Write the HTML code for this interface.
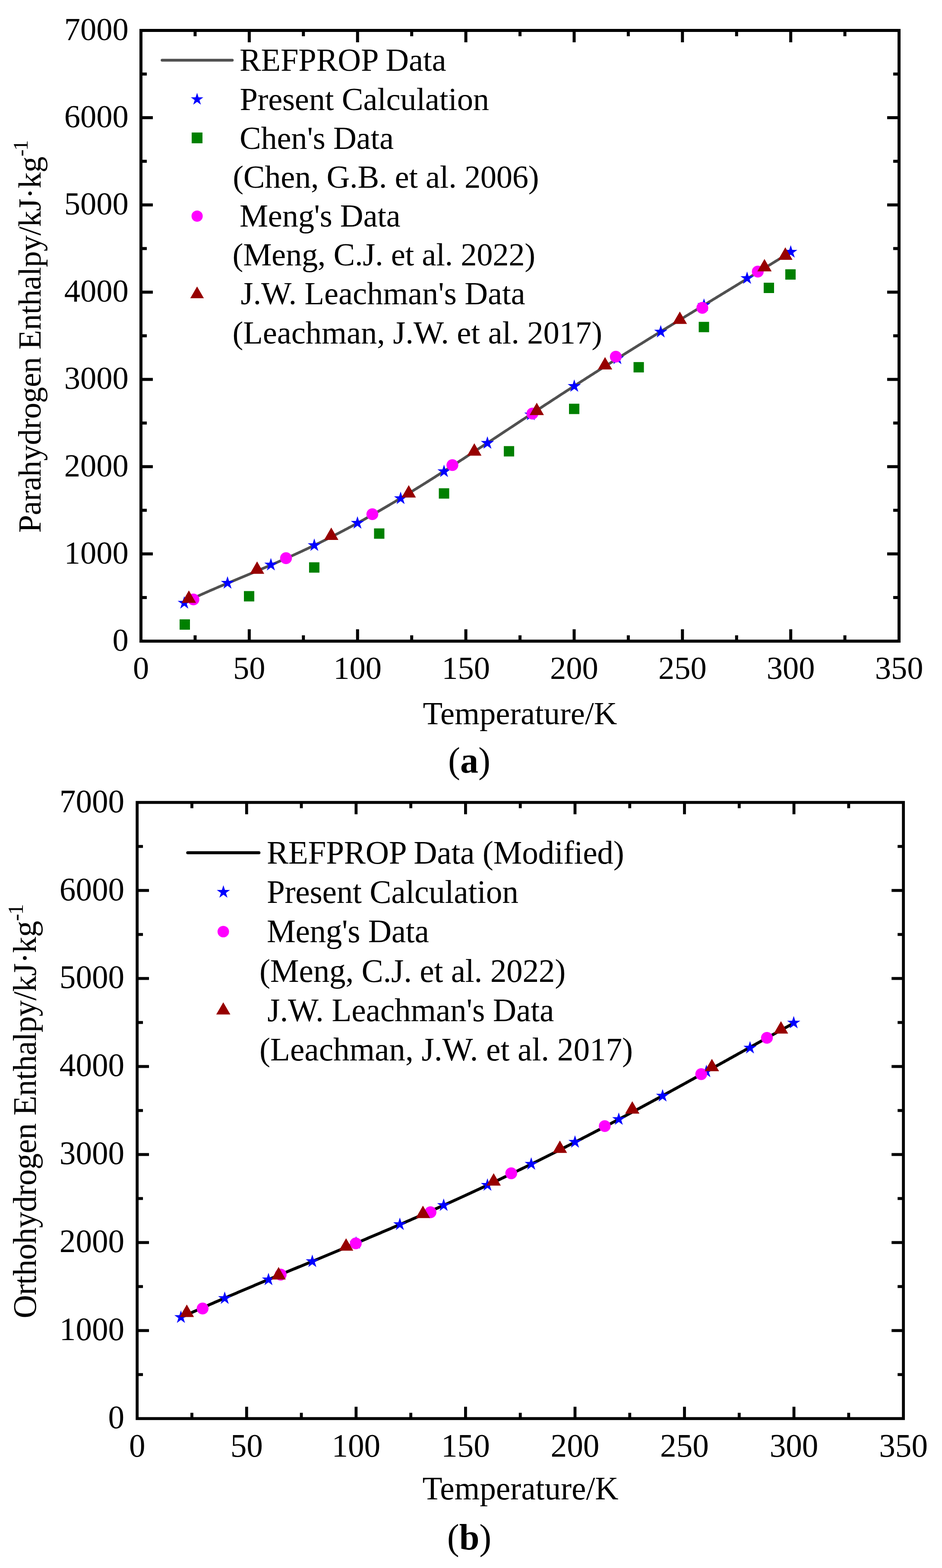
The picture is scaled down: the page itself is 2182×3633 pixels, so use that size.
<!DOCTYPE html>
<html><head><meta charset="utf-8"><title>Enthalpy of parahydrogen and orthohydrogen</title>
<style>
html,body{margin:0;padding:0;background:#fff;}
svg{display:block;}
text{font-family:"Liberation Serif","Times New Roman",serif;fill:#000;font-variant-ligatures:none;}
</style></head>
<body>
<svg width="2182" height="3633" viewBox="0 0 2182 3633">
<rect width="2182" height="3633" fill="#fff"/>
<rect x="326.5" y="70.5" width="1756.00" height="1415.00" fill="none" stroke="#000" stroke-width="7"/>
<text x="326.50" y="1573.30" font-size="74.5" text-anchor="middle" >0</text>
<line x1="451.93" y1="1485.5" x2="451.93" y2="1472.00" stroke="#000" stroke-width="7"/>
<line x1="451.93" y1="70.5" x2="451.93" y2="84.00" stroke="#000" stroke-width="7"/>
<line x1="577.36" y1="1485.5" x2="577.36" y2="1458.00" stroke="#000" stroke-width="7"/>
<line x1="577.36" y1="70.5" x2="577.36" y2="98.00" stroke="#000" stroke-width="7"/>
<text x="577.36" y="1573.30" font-size="74.5" text-anchor="middle" >50</text>
<line x1="702.79" y1="1485.5" x2="702.79" y2="1472.00" stroke="#000" stroke-width="7"/>
<line x1="702.79" y1="70.5" x2="702.79" y2="84.00" stroke="#000" stroke-width="7"/>
<line x1="828.21" y1="1485.5" x2="828.21" y2="1458.00" stroke="#000" stroke-width="7"/>
<line x1="828.21" y1="70.5" x2="828.21" y2="98.00" stroke="#000" stroke-width="7"/>
<text x="828.21" y="1573.30" font-size="74.5" text-anchor="middle" >100</text>
<line x1="953.64" y1="1485.5" x2="953.64" y2="1472.00" stroke="#000" stroke-width="7"/>
<line x1="953.64" y1="70.5" x2="953.64" y2="84.00" stroke="#000" stroke-width="7"/>
<line x1="1079.07" y1="1485.5" x2="1079.07" y2="1458.00" stroke="#000" stroke-width="7"/>
<line x1="1079.07" y1="70.5" x2="1079.07" y2="98.00" stroke="#000" stroke-width="7"/>
<text x="1079.07" y="1573.30" font-size="74.5" text-anchor="middle" >150</text>
<line x1="1204.50" y1="1485.5" x2="1204.50" y2="1472.00" stroke="#000" stroke-width="7"/>
<line x1="1204.50" y1="70.5" x2="1204.50" y2="84.00" stroke="#000" stroke-width="7"/>
<line x1="1329.93" y1="1485.5" x2="1329.93" y2="1458.00" stroke="#000" stroke-width="7"/>
<line x1="1329.93" y1="70.5" x2="1329.93" y2="98.00" stroke="#000" stroke-width="7"/>
<text x="1329.93" y="1573.30" font-size="74.5" text-anchor="middle" >200</text>
<line x1="1455.36" y1="1485.5" x2="1455.36" y2="1472.00" stroke="#000" stroke-width="7"/>
<line x1="1455.36" y1="70.5" x2="1455.36" y2="84.00" stroke="#000" stroke-width="7"/>
<line x1="1580.79" y1="1485.5" x2="1580.79" y2="1458.00" stroke="#000" stroke-width="7"/>
<line x1="1580.79" y1="70.5" x2="1580.79" y2="98.00" stroke="#000" stroke-width="7"/>
<text x="1580.79" y="1573.30" font-size="74.5" text-anchor="middle" >250</text>
<line x1="1706.21" y1="1485.5" x2="1706.21" y2="1472.00" stroke="#000" stroke-width="7"/>
<line x1="1706.21" y1="70.5" x2="1706.21" y2="84.00" stroke="#000" stroke-width="7"/>
<line x1="1831.64" y1="1485.5" x2="1831.64" y2="1458.00" stroke="#000" stroke-width="7"/>
<line x1="1831.64" y1="70.5" x2="1831.64" y2="98.00" stroke="#000" stroke-width="7"/>
<text x="1831.64" y="1573.30" font-size="74.5" text-anchor="middle" >300</text>
<line x1="1957.07" y1="1485.5" x2="1957.07" y2="1472.00" stroke="#000" stroke-width="7"/>
<line x1="1957.07" y1="70.5" x2="1957.07" y2="84.00" stroke="#000" stroke-width="7"/>
<text x="2082.50" y="1573.30" font-size="74.5" text-anchor="middle" >350</text>
<text x="297.70" y="1507.90" font-size="74.5" text-anchor="end" >0</text>
<line x1="326.5" y1="1384.43" x2="340.00" y2="1384.43" stroke="#000" stroke-width="7"/>
<line x1="2082.5" y1="1384.43" x2="2069.00" y2="1384.43" stroke="#000" stroke-width="7"/>
<line x1="326.5" y1="1283.36" x2="354.00" y2="1283.36" stroke="#000" stroke-width="7"/>
<line x1="2082.5" y1="1283.36" x2="2055.00" y2="1283.36" stroke="#000" stroke-width="7"/>
<text x="297.70" y="1305.76" font-size="74.5" text-anchor="end" >1000</text>
<line x1="326.5" y1="1182.29" x2="340.00" y2="1182.29" stroke="#000" stroke-width="7"/>
<line x1="2082.5" y1="1182.29" x2="2069.00" y2="1182.29" stroke="#000" stroke-width="7"/>
<line x1="326.5" y1="1081.21" x2="354.00" y2="1081.21" stroke="#000" stroke-width="7"/>
<line x1="2082.5" y1="1081.21" x2="2055.00" y2="1081.21" stroke="#000" stroke-width="7"/>
<text x="297.70" y="1103.61" font-size="74.5" text-anchor="end" >2000</text>
<line x1="326.5" y1="980.14" x2="340.00" y2="980.14" stroke="#000" stroke-width="7"/>
<line x1="2082.5" y1="980.14" x2="2069.00" y2="980.14" stroke="#000" stroke-width="7"/>
<line x1="326.5" y1="879.07" x2="354.00" y2="879.07" stroke="#000" stroke-width="7"/>
<line x1="2082.5" y1="879.07" x2="2055.00" y2="879.07" stroke="#000" stroke-width="7"/>
<text x="297.70" y="901.47" font-size="74.5" text-anchor="end" >3000</text>
<line x1="326.5" y1="778.00" x2="340.00" y2="778.00" stroke="#000" stroke-width="7"/>
<line x1="2082.5" y1="778.00" x2="2069.00" y2="778.00" stroke="#000" stroke-width="7"/>
<line x1="326.5" y1="676.93" x2="354.00" y2="676.93" stroke="#000" stroke-width="7"/>
<line x1="2082.5" y1="676.93" x2="2055.00" y2="676.93" stroke="#000" stroke-width="7"/>
<text x="297.70" y="699.33" font-size="74.5" text-anchor="end" >4000</text>
<line x1="326.5" y1="575.86" x2="340.00" y2="575.86" stroke="#000" stroke-width="7"/>
<line x1="2082.5" y1="575.86" x2="2069.00" y2="575.86" stroke="#000" stroke-width="7"/>
<line x1="326.5" y1="474.79" x2="354.00" y2="474.79" stroke="#000" stroke-width="7"/>
<line x1="2082.5" y1="474.79" x2="2055.00" y2="474.79" stroke="#000" stroke-width="7"/>
<text x="297.70" y="497.19" font-size="74.5" text-anchor="end" >5000</text>
<line x1="326.5" y1="373.71" x2="340.00" y2="373.71" stroke="#000" stroke-width="7"/>
<line x1="2082.5" y1="373.71" x2="2069.00" y2="373.71" stroke="#000" stroke-width="7"/>
<line x1="326.5" y1="272.64" x2="354.00" y2="272.64" stroke="#000" stroke-width="7"/>
<line x1="2082.5" y1="272.64" x2="2055.00" y2="272.64" stroke="#000" stroke-width="7"/>
<text x="297.70" y="295.04" font-size="74.5" text-anchor="end" >6000</text>
<line x1="326.5" y1="171.57" x2="340.00" y2="171.57" stroke="#000" stroke-width="7"/>
<line x1="2082.5" y1="171.57" x2="2069.00" y2="171.57" stroke="#000" stroke-width="7"/>
<text x="297.70" y="92.90" font-size="74.5" text-anchor="end" >7000</text>
<path d="M426.80,1396.13 L429.80,1394.65 L432.80,1393.19 L435.81,1391.74 L438.81,1390.30 L441.81,1388.87 L444.81,1387.44 L447.81,1386.03 L450.81,1384.63 L453.82,1383.24 L456.82,1381.86 L459.82,1380.49 L462.82,1379.12 L465.82,1377.76 L468.82,1376.41 L471.83,1375.07 L474.83,1373.73 L477.83,1372.41 L480.83,1371.08 L483.83,1369.77 L486.83,1368.46 L489.84,1367.15 L492.84,1365.85 L495.84,1364.56 L498.84,1363.27 L501.84,1361.98 L504.84,1360.70 L507.85,1359.42 L510.85,1358.15 L513.85,1356.88 L516.85,1355.61 L519.85,1354.34 L522.85,1353.08 L525.86,1351.82 L528.86,1350.56 L531.86,1349.31 L534.86,1348.05 L537.86,1346.80 L540.86,1345.55 L543.87,1344.30 L546.87,1343.05 L549.87,1341.80 L552.87,1340.56 L555.87,1339.31 L558.88,1338.06 L561.88,1336.81 L564.88,1335.57 L567.88,1334.32 L570.88,1333.07 L573.88,1331.82 L576.89,1330.57 L579.89,1329.32 L582.89,1328.06 L585.89,1326.81 L588.89,1325.55 L591.89,1324.30 L594.90,1323.04 L597.90,1321.77 L600.90,1320.51 L603.90,1319.24 L606.90,1317.98 L609.90,1316.70 L612.91,1315.43 L615.91,1314.15 L618.91,1312.87 L621.91,1311.59 L624.91,1310.30 L627.91,1309.01 L630.92,1307.72 L633.92,1306.42 L636.92,1305.12 L639.92,1303.82 L642.92,1302.51 L645.92,1301.20 L648.93,1299.89 L651.93,1298.57 L654.93,1297.24 L657.93,1295.91 L660.93,1294.58 L663.94,1293.24 L666.94,1291.90 L669.94,1290.55 L672.94,1289.20 L675.94,1287.85 L678.94,1286.49 L681.95,1285.12 L684.95,1283.75 L687.95,1282.38 L690.95,1281.00 L693.95,1279.61 L696.95,1278.22 L699.96,1276.82 L702.96,1275.42 L705.96,1274.01 L708.96,1272.60 L711.96,1271.18 L714.96,1269.76 L717.97,1268.33 L720.97,1266.90 L723.97,1265.46 L726.97,1264.02 L729.97,1262.56 L732.97,1261.11 L735.98,1259.65 L738.98,1258.18 L741.98,1256.71 L744.98,1255.23 L747.98,1253.74 L750.98,1252.25 L753.99,1250.75 L756.99,1249.25 L759.99,1247.74 L762.99,1246.23 L765.99,1244.71 L768.99,1243.19 L772.00,1241.65 L775.00,1240.12 L778.00,1238.57 L781.00,1237.03 L784.00,1235.47 L787.01,1233.91 L790.01,1232.34 L793.01,1230.77 L796.01,1229.19 L799.01,1227.61 L802.01,1226.02 L805.02,1224.43 L808.02,1222.83 L811.02,1221.22 L814.02,1219.61 L817.02,1217.99 L820.02,1216.37 L823.03,1214.74 L826.03,1213.10 L829.03,1211.46 L832.03,1209.81 L835.03,1208.16 L838.03,1206.50 L841.04,1204.84 L844.04,1203.17 L847.04,1201.50 L850.04,1199.82 L853.04,1198.14 L856.04,1196.44 L859.05,1194.75 L862.05,1193.05 L865.05,1191.34 L868.05,1189.63 L871.05,1187.91 L874.05,1186.19 L877.06,1184.47 L880.06,1182.73 L883.06,1181.00 L886.06,1179.26 L889.06,1177.51 L892.06,1175.76 L895.07,1174.00 L898.07,1172.24 L901.07,1170.47 L904.07,1168.70 L907.07,1166.93 L910.08,1165.15 L913.08,1163.36 L916.08,1161.57 L919.08,1159.78 L922.08,1157.98 L925.08,1156.18 L928.09,1154.37 L931.09,1152.56 L934.09,1150.74 L937.09,1148.92 L940.09,1147.10 L943.09,1145.27 L946.10,1143.44 L949.10,1141.60 L952.10,1139.76 L955.10,1137.91 L958.10,1136.07 L961.10,1134.21 L964.11,1132.36 L967.11,1130.50 L970.11,1128.64 L973.11,1126.77 L976.11,1124.90 L979.11,1123.03 L982.12,1121.15 L985.12,1119.27 L988.12,1117.38 L991.12,1115.50 L994.12,1113.61 L997.12,1111.71 L1000.13,1109.82 L1003.13,1107.92 L1006.13,1106.02 L1009.13,1104.11 L1012.13,1102.20 L1015.14,1100.29 L1018.14,1098.38 L1021.14,1096.46 L1024.14,1094.54 L1027.14,1092.62 L1030.14,1090.70 L1033.15,1088.77 L1036.15,1086.84 L1039.15,1084.91 L1042.15,1082.98 L1045.15,1081.04 L1048.15,1079.10 L1051.16,1077.16 L1054.16,1075.22 L1057.16,1073.28 L1060.16,1071.33 L1063.16,1069.38 L1066.16,1067.43 L1069.17,1065.48 L1072.17,1063.53 L1075.17,1061.57 L1078.17,1059.62 L1081.17,1057.66 L1084.17,1055.70 L1087.18,1053.74 L1090.18,1051.78 L1093.18,1049.81 L1096.18,1047.85 L1099.18,1045.88 L1102.18,1043.91 L1105.19,1041.95 L1108.19,1039.98 L1111.19,1038.01 L1114.19,1036.03 L1117.19,1034.06 L1120.19,1032.09 L1123.20,1030.11 L1126.20,1028.14 L1129.20,1026.16 L1132.20,1024.19 L1135.20,1022.21 L1138.21,1020.23 L1141.21,1018.25 L1144.21,1016.27 L1147.21,1014.30 L1150.21,1012.32 L1153.21,1010.34 L1156.22,1008.36 L1159.22,1006.38 L1162.22,1004.39 L1165.22,1002.41 L1168.22,1000.43 L1171.22,998.45 L1174.23,996.47 L1177.23,994.49 L1180.23,992.51 L1183.23,990.53 L1186.23,988.55 L1189.23,986.57 L1192.24,984.59 L1195.24,982.61 L1198.24,980.63 L1201.24,978.65 L1204.24,976.67 L1207.24,974.69 L1210.25,972.71 L1213.25,970.73 L1216.25,968.75 L1219.25,966.78 L1222.25,964.80 L1225.25,962.83 L1228.26,960.85 L1231.26,958.88 L1234.26,956.90 L1237.26,954.93 L1240.26,952.96 L1243.26,950.99 L1246.27,949.02 L1249.27,947.05 L1252.27,945.08 L1255.27,943.11 L1258.27,941.14 L1261.28,939.18 L1264.28,937.21 L1267.28,935.25 L1270.28,933.29 L1273.28,931.32 L1276.28,929.36 L1279.29,927.40 L1282.29,925.44 L1285.29,923.49 L1288.29,921.53 L1291.29,919.58 L1294.29,917.62 L1297.30,915.67 L1300.30,913.72 L1303.30,911.77 L1306.30,909.82 L1309.30,907.87 L1312.30,905.93 L1315.31,903.98 L1318.31,902.04 L1321.31,900.10 L1324.31,898.16 L1327.31,896.22 L1330.31,894.28 L1333.32,892.34 L1336.32,890.41 L1339.32,888.47 L1342.32,886.54 L1345.32,884.61 L1348.32,882.68 L1351.33,880.75 L1354.33,878.83 L1357.33,876.90 L1360.33,874.98 L1363.33,873.06 L1366.34,871.14 L1369.34,869.22 L1372.34,867.30 L1375.34,865.38 L1378.34,863.47 L1381.34,861.56 L1384.35,859.64 L1387.35,857.73 L1390.35,855.83 L1393.35,853.92 L1396.35,852.01 L1399.35,850.11 L1402.36,848.21 L1405.36,846.31 L1408.36,844.41 L1411.36,842.51 L1414.36,840.61 L1417.36,838.72 L1420.37,836.82 L1423.37,834.93 L1426.37,833.04 L1429.37,831.15 L1432.37,829.26 L1435.37,827.38 L1438.38,825.49 L1441.38,823.61 L1444.38,821.72 L1447.38,819.84 L1450.38,817.96 L1453.38,816.09 L1456.39,814.21 L1459.39,812.33 L1462.39,810.46 L1465.39,808.59 L1468.39,806.71 L1471.39,804.84 L1474.40,802.98 L1477.40,801.11 L1480.40,799.24 L1483.40,797.38 L1486.40,795.51 L1489.41,793.65 L1492.41,791.79 L1495.41,789.93 L1498.41,788.07 L1501.41,786.21 L1504.41,784.35 L1507.42,782.50 L1510.42,780.64 L1513.42,778.79 L1516.42,776.93 L1519.42,775.08 L1522.42,773.23 L1525.43,771.38 L1528.43,769.53 L1531.43,767.68 L1534.43,765.83 L1537.43,763.99 L1540.43,762.14 L1543.44,760.30 L1546.44,758.45 L1549.44,756.61 L1552.44,754.77 L1555.44,752.92 L1558.44,751.08 L1561.45,749.24 L1564.45,747.40 L1567.45,745.56 L1570.45,743.72 L1573.45,741.89 L1576.45,740.05 L1579.46,738.21 L1582.46,736.38 L1585.46,734.54 L1588.46,732.70 L1591.46,730.87 L1594.46,729.03 L1597.47,727.20 L1600.47,725.37 L1603.47,723.53 L1606.47,721.70 L1609.47,719.87 L1612.48,718.03 L1615.48,716.20 L1618.48,714.37 L1621.48,712.54 L1624.48,710.71 L1627.48,708.87 L1630.49,707.04 L1633.49,705.21 L1636.49,703.38 L1639.49,701.55 L1642.49,699.72 L1645.49,697.89 L1648.50,696.06 L1651.50,694.22 L1654.50,692.39 L1657.50,690.56 L1660.50,688.73 L1663.50,686.90 L1666.51,685.07 L1669.51,683.24 L1672.51,681.40 L1675.51,679.57 L1678.51,677.74 L1681.51,675.91 L1684.52,674.07 L1687.52,672.24 L1690.52,670.41 L1693.52,668.57 L1696.52,666.74 L1699.52,664.91 L1702.53,663.07 L1705.53,661.24 L1708.53,659.40 L1711.53,657.57 L1714.53,655.73 L1717.54,653.89 L1720.54,652.06 L1723.54,650.22 L1726.54,648.38 L1729.54,646.54 L1732.54,644.70 L1735.55,642.87 L1738.55,641.03 L1741.55,639.19 L1744.55,637.35 L1747.55,635.50 L1750.55,633.66 L1753.56,631.82 L1756.56,629.98 L1759.56,628.14 L1762.56,626.29 L1765.56,624.45 L1768.56,622.61 L1771.57,620.76 L1774.57,618.92 L1777.57,617.07 L1780.57,615.23 L1783.57,613.38 L1786.57,611.53 L1789.58,609.69 L1792.58,607.84 L1795.58,605.99 L1798.58,604.14 L1801.58,602.29 L1804.58,600.44 L1807.59,598.59 L1810.59,596.74 L1813.59,594.89 L1816.59,593.04 L1819.59,591.19 L1822.59,589.34 L1825.60,587.49 L1828.60,585.64 L1831.60,583.79" fill="none" stroke="#505050" stroke-width="6.2" stroke-linejoin="round"/>
<rect x="416.00" y="1435.00" width="24" height="24" fill="#008000"/>
<rect x="565.00" y="1369.50" width="24" height="24" fill="#008000"/>
<rect x="715.90" y="1302.80" width="24" height="24" fill="#008000"/>
<rect x="866.40" y="1224.30" width="24" height="24" fill="#008000"/>
<rect x="1016.50" y="1131.30" width="24" height="24" fill="#008000"/>
<rect x="1167.00" y="1033.60" width="24" height="24" fill="#008000"/>
<rect x="1318.00" y="935.40" width="24" height="24" fill="#008000"/>
<rect x="1467.50" y="838.90" width="24" height="24" fill="#008000"/>
<rect x="1618.50" y="745.70" width="24" height="24" fill="#008000"/>
<rect x="1769.00" y="655.00" width="24" height="24" fill="#008000"/>
<rect x="1819.00" y="623.90" width="24" height="24" fill="#008000"/>
<polygon points="426.80,1381.20 430.39,1392.26 442.02,1392.26 432.61,1399.09 436.20,1410.14 426.80,1403.31 417.40,1410.14 420.99,1399.09 411.58,1392.26 423.21,1392.26" fill="#0000ff"/>
<polygon points="527.00,1335.00 530.59,1346.06 542.22,1346.06 532.81,1352.89 536.40,1363.94 527.00,1357.11 517.60,1363.94 521.19,1352.89 511.78,1346.06 523.41,1346.06" fill="#0000ff"/>
<polygon points="627.50,1292.80 631.09,1303.86 642.72,1303.86 633.31,1310.69 636.90,1321.74 627.50,1314.91 618.10,1321.74 621.69,1310.69 612.28,1303.86 623.91,1303.86" fill="#0000ff"/>
<polygon points="728.00,1247.60 731.59,1258.66 743.22,1258.66 733.81,1265.49 737.40,1276.54 728.00,1269.71 718.60,1276.54 722.19,1265.49 712.78,1258.66 724.41,1258.66" fill="#0000ff"/>
<polygon points="828.00,1196.00 831.59,1207.06 843.22,1207.06 833.81,1213.89 837.40,1224.94 828.00,1218.11 818.60,1224.94 822.19,1213.89 812.78,1207.06 824.41,1207.06" fill="#0000ff"/>
<polygon points="928.00,1139.00 931.59,1150.06 943.22,1150.06 933.81,1156.89 937.40,1167.94 928.00,1161.11 918.60,1167.94 922.19,1156.89 912.78,1150.06 924.41,1150.06" fill="#0000ff"/>
<polygon points="1028.50,1076.50 1032.09,1087.56 1043.72,1087.56 1034.31,1094.39 1037.90,1105.44 1028.50,1098.61 1019.10,1105.44 1022.69,1094.39 1013.28,1087.56 1024.91,1087.56" fill="#0000ff"/>
<polygon points="1129.00,1010.80 1132.59,1021.86 1144.22,1021.86 1134.81,1028.69 1138.40,1039.74 1129.00,1032.91 1119.60,1039.74 1123.19,1028.69 1113.78,1021.86 1125.41,1021.86" fill="#0000ff"/>
<polygon points="1229.60,944.90 1233.19,955.96 1244.82,955.96 1235.41,962.79 1239.00,973.84 1229.60,967.01 1220.20,973.84 1223.79,962.79 1214.38,955.96 1226.01,955.96" fill="#0000ff"/>
<polygon points="1330.20,878.90 1333.79,889.96 1345.42,889.96 1336.01,896.79 1339.60,907.84 1330.20,901.01 1320.80,907.84 1324.39,896.79 1314.98,889.96 1326.61,889.96" fill="#0000ff"/>
<polygon points="1430.10,814.80 1433.69,825.86 1445.32,825.86 1435.91,832.69 1439.50,843.74 1430.10,836.91 1420.70,843.74 1424.29,832.69 1414.88,825.86 1426.51,825.86" fill="#0000ff"/>
<polygon points="1530.50,753.00 1534.09,764.06 1545.72,764.06 1536.31,770.89 1539.90,781.94 1530.50,775.11 1521.10,781.94 1524.69,770.89 1515.28,764.06 1526.91,764.06" fill="#0000ff"/>
<polygon points="1630.70,691.20 1634.29,702.26 1645.92,702.26 1636.51,709.09 1640.10,720.14 1630.70,713.31 1621.30,720.14 1624.89,709.09 1615.48,702.26 1627.11,702.26" fill="#0000ff"/>
<polygon points="1730.50,628.90 1734.09,639.96 1745.72,639.96 1736.31,646.79 1739.90,657.84 1730.50,651.01 1721.10,657.84 1724.69,646.79 1715.28,639.96 1726.91,639.96" fill="#0000ff"/>
<polygon points="1831.60,568.00 1835.19,579.06 1846.82,579.06 1837.41,585.89 1841.00,596.94 1831.60,590.11 1822.20,596.94 1825.79,585.89 1816.38,579.06 1828.01,579.06" fill="#0000ff"/>
<circle cx="448" cy="1388.9" r="13.7" fill="#ff00ff"/>
<circle cx="662.5" cy="1293.2" r="13.7" fill="#ff00ff"/>
<circle cx="862.5" cy="1191.4" r="13.7" fill="#ff00ff"/>
<circle cx="1047.9" cy="1077.6" r="13.7" fill="#ff00ff"/>
<circle cx="1233.2" cy="958.3" r="13.7" fill="#ff00ff"/>
<circle cx="1426.4" cy="826.4" r="13.7" fill="#ff00ff"/>
<circle cx="1626.9" cy="713.2" r="13.7" fill="#ff00ff"/>
<circle cx="1755.3" cy="629.2" r="13.7" fill="#ff00ff"/>
<polygon points="420.90,1396.80 454.10,1396.80 437.50,1368.00" fill="#970000"/>
<polygon points="578.90,1329.60 612.10,1329.60 595.50,1300.80" fill="#970000"/>
<polygon points="750.70,1251.10 783.90,1251.10 767.30,1222.30" fill="#970000"/>
<polygon points="930.20,1152.70 963.40,1152.70 946.80,1123.90" fill="#970000"/>
<polygon points="1082.10,1055.70 1115.30,1055.70 1098.70,1026.90" fill="#970000"/>
<polygon points="1226.70,961.70 1259.90,961.70 1243.30,932.90" fill="#970000"/>
<polygon points="1384.90,856.10 1418.10,856.10 1401.50,827.30" fill="#970000"/>
<polygon points="1558.10,750.60 1591.30,750.60 1574.70,721.80" fill="#970000"/>
<polygon points="1754.20,628.80 1787.40,628.80 1770.80,600.00" fill="#970000"/>
<polygon points="1802.50,601.90 1835.70,601.90 1819.10,573.10" fill="#970000"/>
<line x1="375.5" y1="139.5" x2="538" y2="139.5" stroke="#505050" stroke-width="6.5" stroke-linecap="round"/>
<polygon points="456.50,215.00 459.91,225.50 470.96,225.50 462.02,231.99 465.43,242.50 456.50,236.01 447.57,242.50 450.98,231.99 442.04,225.50 453.09,225.50" fill="#0000ff"/>
<rect x="444.00" y="307.00" width="25" height="25" fill="#008000"/>
<circle cx="456.6" cy="500.8" r="13.0" fill="#ff00ff"/>
<polygon points="440.75,691.00 472.25,691.00 456.50,663.70" fill="#970000"/>
<text x="554.90" y="164.0" font-size="74.5" id="la1" textLength="478.70" lengthAdjust="spacing">REFPROP Data</text>
<text x="555.40" y="254.5" font-size="74.5" id="la2" textLength="577.59" lengthAdjust="spacing">Present Calculation</text>
<text x="554.90" y="344.6" font-size="74.5" id="la3" textLength="357.14" lengthAdjust="spacing">Chen's Data</text>
<text x="539.30" y="435.2" font-size="74.5" id="la4" textLength="709.21" lengthAdjust="spacing">(Chen, G.B. et al. 2006)</text>
<text x="554.90" y="524.8" font-size="74.5" id="la5" textLength="372.78" lengthAdjust="spacing">Meng's Data</text>
<text x="538.60" y="615.4" font-size="74.5" id="la6" textLength="701.36" lengthAdjust="spacing">(Meng, C.J. et al. 2022)</text>
<text x="557.50" y="705.2" font-size="74.5" id="la7" textLength="659.15" lengthAdjust="spacing">J.W. Leachman's Data</text>
<text x="538.60" y="796.2" font-size="74.5" id="la8" textLength="856.34" lengthAdjust="spacing">(Leachman, J.W. et al. 2017)</text>
<text x="1204.5" y="1677.5" font-size="74.5" text-anchor="middle" >Temperature/K</text>
<text transform="translate(94.4,1234.50) rotate(-90)" x="0" y="0" font-size="74.5" id="ya1" textLength="872.01" lengthAdjust="spacing">Parahydrogen Enthalpy/kJ·kg</text>
<text transform="translate(64.0,362.60) rotate(-90)" x="0" y="0" font-size="48.7" id="ya2" textLength="37.96" lengthAdjust="spacing">-1</text>
<text x="1087" y="1790" font-size="84" text-anchor="middle">(<tspan font-weight="bold">a</tspan>)</text>
<rect x="317.7" y="1859.2" width="1774.90" height="1427.60" fill="none" stroke="#000" stroke-width="6.8"/>
<text x="317.70" y="3375.30" font-size="75.2" text-anchor="middle" >0</text>
<line x1="444.48" y1="3286.8" x2="444.48" y2="3273.40" stroke="#000" stroke-width="6.8"/>
<line x1="444.48" y1="1859.2" x2="444.48" y2="1872.60" stroke="#000" stroke-width="6.8"/>
<line x1="571.26" y1="3286.8" x2="571.26" y2="3259.40" stroke="#000" stroke-width="6.8"/>
<line x1="571.26" y1="1859.2" x2="571.26" y2="1886.60" stroke="#000" stroke-width="6.8"/>
<text x="571.26" y="3375.30" font-size="75.2" text-anchor="middle" >50</text>
<line x1="698.04" y1="3286.8" x2="698.04" y2="3273.40" stroke="#000" stroke-width="6.8"/>
<line x1="698.04" y1="1859.2" x2="698.04" y2="1872.60" stroke="#000" stroke-width="6.8"/>
<line x1="824.81" y1="3286.8" x2="824.81" y2="3259.40" stroke="#000" stroke-width="6.8"/>
<line x1="824.81" y1="1859.2" x2="824.81" y2="1886.60" stroke="#000" stroke-width="6.8"/>
<text x="824.81" y="3375.30" font-size="75.2" text-anchor="middle" >100</text>
<line x1="951.59" y1="3286.8" x2="951.59" y2="3273.40" stroke="#000" stroke-width="6.8"/>
<line x1="951.59" y1="1859.2" x2="951.59" y2="1872.60" stroke="#000" stroke-width="6.8"/>
<line x1="1078.37" y1="3286.8" x2="1078.37" y2="3259.40" stroke="#000" stroke-width="6.8"/>
<line x1="1078.37" y1="1859.2" x2="1078.37" y2="1886.60" stroke="#000" stroke-width="6.8"/>
<text x="1078.37" y="3375.30" font-size="75.2" text-anchor="middle" >150</text>
<line x1="1205.15" y1="3286.8" x2="1205.15" y2="3273.40" stroke="#000" stroke-width="6.8"/>
<line x1="1205.15" y1="1859.2" x2="1205.15" y2="1872.60" stroke="#000" stroke-width="6.8"/>
<line x1="1331.93" y1="3286.8" x2="1331.93" y2="3259.40" stroke="#000" stroke-width="6.8"/>
<line x1="1331.93" y1="1859.2" x2="1331.93" y2="1886.60" stroke="#000" stroke-width="6.8"/>
<text x="1331.93" y="3375.30" font-size="75.2" text-anchor="middle" >200</text>
<line x1="1458.71" y1="3286.8" x2="1458.71" y2="3273.40" stroke="#000" stroke-width="6.8"/>
<line x1="1458.71" y1="1859.2" x2="1458.71" y2="1872.60" stroke="#000" stroke-width="6.8"/>
<line x1="1585.49" y1="3286.8" x2="1585.49" y2="3259.40" stroke="#000" stroke-width="6.8"/>
<line x1="1585.49" y1="1859.2" x2="1585.49" y2="1886.60" stroke="#000" stroke-width="6.8"/>
<text x="1585.49" y="3375.30" font-size="75.2" text-anchor="middle" >250</text>
<line x1="1712.26" y1="3286.8" x2="1712.26" y2="3273.40" stroke="#000" stroke-width="6.8"/>
<line x1="1712.26" y1="1859.2" x2="1712.26" y2="1872.60" stroke="#000" stroke-width="6.8"/>
<line x1="1839.04" y1="3286.8" x2="1839.04" y2="3259.40" stroke="#000" stroke-width="6.8"/>
<line x1="1839.04" y1="1859.2" x2="1839.04" y2="1886.60" stroke="#000" stroke-width="6.8"/>
<text x="1839.04" y="3375.30" font-size="75.2" text-anchor="middle" >300</text>
<line x1="1965.82" y1="3286.8" x2="1965.82" y2="3273.40" stroke="#000" stroke-width="6.8"/>
<line x1="1965.82" y1="1859.2" x2="1965.82" y2="1872.60" stroke="#000" stroke-width="6.8"/>
<text x="2092.60" y="3375.30" font-size="75.2" text-anchor="middle" >350</text>
<text x="288.20" y="3309.20" font-size="75.2" text-anchor="end" >0</text>
<line x1="317.7" y1="3184.83" x2="331.10" y2="3184.83" stroke="#000" stroke-width="6.8"/>
<line x1="2092.6" y1="3184.83" x2="2079.20" y2="3184.83" stroke="#000" stroke-width="6.8"/>
<line x1="317.7" y1="3082.86" x2="345.10" y2="3082.86" stroke="#000" stroke-width="6.8"/>
<line x1="2092.6" y1="3082.86" x2="2065.20" y2="3082.86" stroke="#000" stroke-width="6.8"/>
<text x="288.20" y="3105.26" font-size="75.2" text-anchor="end" >1000</text>
<line x1="317.7" y1="2980.89" x2="331.10" y2="2980.89" stroke="#000" stroke-width="6.8"/>
<line x1="2092.6" y1="2980.89" x2="2079.20" y2="2980.89" stroke="#000" stroke-width="6.8"/>
<line x1="317.7" y1="2878.91" x2="345.10" y2="2878.91" stroke="#000" stroke-width="6.8"/>
<line x1="2092.6" y1="2878.91" x2="2065.20" y2="2878.91" stroke="#000" stroke-width="6.8"/>
<text x="288.20" y="2901.31" font-size="75.2" text-anchor="end" >2000</text>
<line x1="317.7" y1="2776.94" x2="331.10" y2="2776.94" stroke="#000" stroke-width="6.8"/>
<line x1="2092.6" y1="2776.94" x2="2079.20" y2="2776.94" stroke="#000" stroke-width="6.8"/>
<line x1="317.7" y1="2674.97" x2="345.10" y2="2674.97" stroke="#000" stroke-width="6.8"/>
<line x1="2092.6" y1="2674.97" x2="2065.20" y2="2674.97" stroke="#000" stroke-width="6.8"/>
<text x="288.20" y="2697.37" font-size="75.2" text-anchor="end" >3000</text>
<line x1="317.7" y1="2573.00" x2="331.10" y2="2573.00" stroke="#000" stroke-width="6.8"/>
<line x1="2092.6" y1="2573.00" x2="2079.20" y2="2573.00" stroke="#000" stroke-width="6.8"/>
<line x1="317.7" y1="2471.03" x2="345.10" y2="2471.03" stroke="#000" stroke-width="6.8"/>
<line x1="2092.6" y1="2471.03" x2="2065.20" y2="2471.03" stroke="#000" stroke-width="6.8"/>
<text x="288.20" y="2493.43" font-size="75.2" text-anchor="end" >4000</text>
<line x1="317.7" y1="2369.06" x2="331.10" y2="2369.06" stroke="#000" stroke-width="6.8"/>
<line x1="2092.6" y1="2369.06" x2="2079.20" y2="2369.06" stroke="#000" stroke-width="6.8"/>
<line x1="317.7" y1="2267.09" x2="345.10" y2="2267.09" stroke="#000" stroke-width="6.8"/>
<line x1="2092.6" y1="2267.09" x2="2065.20" y2="2267.09" stroke="#000" stroke-width="6.8"/>
<text x="288.20" y="2289.49" font-size="75.2" text-anchor="end" >5000</text>
<line x1="317.7" y1="2165.11" x2="331.10" y2="2165.11" stroke="#000" stroke-width="6.8"/>
<line x1="2092.6" y1="2165.11" x2="2079.20" y2="2165.11" stroke="#000" stroke-width="6.8"/>
<line x1="317.7" y1="2063.14" x2="345.10" y2="2063.14" stroke="#000" stroke-width="6.8"/>
<line x1="2092.6" y1="2063.14" x2="2065.20" y2="2063.14" stroke="#000" stroke-width="6.8"/>
<text x="288.20" y="2085.54" font-size="75.2" text-anchor="end" >6000</text>
<line x1="317.7" y1="1961.17" x2="331.10" y2="1961.17" stroke="#000" stroke-width="6.8"/>
<line x1="2092.6" y1="1961.17" x2="2079.20" y2="1961.17" stroke="#000" stroke-width="6.8"/>
<text x="288.20" y="1881.60" font-size="75.2" text-anchor="end" >7000</text>
<path d="M419.10,3052.48 L422.10,3051.11 L425.10,3049.74 L428.10,3048.38 L431.10,3047.02 L434.10,3045.66 L437.11,3044.31 L440.11,3042.95 L443.11,3041.61 L446.11,3040.26 L449.11,3038.91 L452.11,3037.57 L455.11,3036.23 L458.11,3034.90 L461.11,3033.56 L464.11,3032.23 L467.11,3030.90 L470.11,3029.57 L473.12,3028.25 L476.12,3026.93 L479.12,3025.61 L482.12,3024.29 L485.12,3022.97 L488.12,3021.66 L491.12,3020.34 L494.12,3019.03 L497.12,3017.73 L500.12,3016.42 L503.12,3015.12 L506.12,3013.81 L509.13,3012.51 L512.13,3011.21 L515.13,3009.92 L518.13,3008.62 L521.13,3007.33 L524.13,3006.04 L527.13,3004.75 L530.13,3003.46 L533.13,3002.17 L536.13,3000.89 L539.13,2999.61 L542.13,2998.32 L545.14,2997.04 L548.14,2995.76 L551.14,2994.49 L554.14,2993.21 L557.14,2991.94 L560.14,2990.66 L563.14,2989.39 L566.14,2988.12 L569.14,2986.85 L572.14,2985.58 L575.14,2984.31 L578.14,2983.05 L581.15,2981.78 L584.15,2980.52 L587.15,2979.26 L590.15,2977.99 L593.15,2976.73 L596.15,2975.47 L599.15,2974.21 L602.15,2972.96 L605.15,2971.70 L608.15,2970.44 L611.15,2969.19 L614.15,2967.93 L617.16,2966.68 L620.16,2965.43 L623.16,2964.17 L626.16,2962.92 L629.16,2961.67 L632.16,2960.42 L635.16,2959.17 L638.16,2957.92 L641.16,2956.67 L644.16,2955.43 L647.16,2954.18 L650.17,2952.93 L653.17,2951.69 L656.17,2950.44 L659.17,2949.19 L662.17,2947.95 L665.17,2946.70 L668.17,2945.46 L671.17,2944.21 L674.17,2942.97 L677.17,2941.73 L680.17,2940.48 L683.17,2939.24 L686.18,2938.00 L689.18,2936.75 L692.18,2935.51 L695.18,2934.27 L698.18,2933.03 L701.18,2931.78 L704.18,2930.54 L707.18,2929.30 L710.18,2928.06 L713.18,2926.81 L716.18,2925.57 L719.18,2924.33 L722.19,2923.08 L725.19,2921.84 L728.19,2920.60 L731.19,2919.36 L734.19,2918.11 L737.19,2916.87 L740.19,2915.62 L743.19,2914.38 L746.19,2913.14 L749.19,2911.89 L752.19,2910.65 L755.19,2909.40 L758.20,2908.15 L761.20,2906.91 L764.20,2905.66 L767.20,2904.42 L770.20,2903.17 L773.20,2901.92 L776.20,2900.67 L779.20,2899.42 L782.20,2898.17 L785.20,2896.92 L788.20,2895.67 L791.20,2894.42 L794.21,2893.17 L797.21,2891.92 L800.21,2890.66 L803.21,2889.41 L806.21,2888.16 L809.21,2886.90 L812.21,2885.64 L815.21,2884.39 L818.21,2883.13 L821.21,2881.87 L824.21,2880.61 L827.22,2879.35 L830.22,2878.09 L833.22,2876.83 L836.22,2875.57 L839.22,2874.31 L842.22,2873.04 L845.22,2871.78 L848.22,2870.51 L851.22,2869.25 L854.22,2867.98 L857.22,2866.71 L860.22,2865.44 L863.23,2864.17 L866.23,2862.90 L869.23,2861.62 L872.23,2860.35 L875.23,2859.07 L878.23,2857.80 L881.23,2856.52 L884.23,2855.24 L887.23,2853.96 L890.23,2852.68 L893.23,2851.40 L896.23,2850.12 L899.24,2848.83 L902.24,2847.55 L905.24,2846.26 L908.24,2844.97 L911.24,2843.68 L914.24,2842.39 L917.24,2841.10 L920.24,2839.81 L923.24,2838.51 L926.24,2837.22 L929.24,2835.92 L932.24,2834.62 L935.25,2833.32 L938.25,2832.02 L941.25,2830.72 L944.25,2829.42 L947.25,2828.11 L950.25,2826.80 L953.25,2825.50 L956.25,2824.19 L959.25,2822.88 L962.25,2821.56 L965.25,2820.25 L968.25,2818.93 L971.26,2817.62 L974.26,2816.30 L977.26,2814.98 L980.26,2813.66 L983.26,2812.33 L986.26,2811.01 L989.26,2809.68 L992.26,2808.35 L995.26,2807.03 L998.26,2805.69 L1001.26,2804.36 L1004.26,2803.03 L1007.27,2801.69 L1010.27,2800.35 L1013.27,2799.02 L1016.27,2797.67 L1019.27,2796.33 L1022.27,2794.99 L1025.27,2793.64 L1028.27,2792.29 L1031.27,2790.94 L1034.27,2789.59 L1037.27,2788.24 L1040.28,2786.89 L1043.28,2785.53 L1046.28,2784.17 L1049.28,2782.81 L1052.28,2781.45 L1055.28,2780.09 L1058.28,2778.72 L1061.28,2777.36 L1064.28,2775.99 L1067.28,2774.62 L1070.28,2773.25 L1073.28,2771.87 L1076.29,2770.50 L1079.29,2769.12 L1082.29,2767.74 L1085.29,2766.36 L1088.29,2764.98 L1091.29,2763.59 L1094.29,2762.21 L1097.29,2760.82 L1100.29,2759.43 L1103.29,2758.03 L1106.29,2756.64 L1109.29,2755.25 L1112.30,2753.85 L1115.30,2752.45 L1118.30,2751.05 L1121.30,2749.64 L1124.30,2748.24 L1127.30,2746.83 L1130.30,2745.42 L1133.30,2744.01 L1136.30,2742.60 L1139.30,2741.18 L1142.30,2739.77 L1145.30,2738.35 L1148.31,2736.93 L1151.31,2735.51 L1154.31,2734.08 L1157.31,2732.66 L1160.31,2731.23 L1163.31,2729.80 L1166.31,2728.37 L1169.31,2726.93 L1172.31,2725.50 L1175.31,2724.06 L1178.31,2722.62 L1181.31,2721.18 L1184.32,2719.73 L1187.32,2718.29 L1190.32,2716.84 L1193.32,2715.39 L1196.32,2713.94 L1199.32,2712.49 L1202.32,2711.03 L1205.32,2709.57 L1208.32,2708.12 L1211.32,2706.65 L1214.32,2705.19 L1217.32,2703.73 L1220.33,2702.26 L1223.33,2700.79 L1226.33,2699.32 L1229.33,2697.85 L1232.33,2696.37 L1235.33,2694.90 L1238.33,2693.42 L1241.33,2691.94 L1244.33,2690.46 L1247.33,2688.97 L1250.33,2687.49 L1253.34,2686.00 L1256.34,2684.51 L1259.34,2683.02 L1262.34,2681.52 L1265.34,2680.03 L1268.34,2678.53 L1271.34,2677.03 L1274.34,2675.53 L1277.34,2674.03 L1280.34,2672.52 L1283.34,2671.01 L1286.34,2669.50 L1289.35,2667.99 L1292.35,2666.48 L1295.35,2664.97 L1298.35,2663.45 L1301.35,2661.93 L1304.35,2660.41 L1307.35,2658.89 L1310.35,2657.37 L1313.35,2655.84 L1316.35,2654.31 L1319.35,2652.78 L1322.35,2651.25 L1325.36,2649.72 L1328.36,2648.18 L1331.36,2646.65 L1334.36,2645.11 L1337.36,2643.57 L1340.36,2642.03 L1343.36,2640.48 L1346.36,2638.94 L1349.36,2637.39 L1352.36,2635.84 L1355.36,2634.29 L1358.36,2632.74 L1361.37,2631.18 L1364.37,2629.63 L1367.37,2628.07 L1370.37,2626.51 L1373.37,2624.95 L1376.37,2623.39 L1379.37,2621.82 L1382.37,2620.25 L1385.37,2618.69 L1388.37,2617.12 L1391.37,2615.54 L1394.37,2613.97 L1397.38,2612.40 L1400.38,2610.82 L1403.38,2609.24 L1406.38,2607.66 L1409.38,2606.08 L1412.38,2604.50 L1415.38,2602.91 L1418.38,2601.33 L1421.38,2599.74 L1424.38,2598.15 L1427.38,2596.56 L1430.38,2594.97 L1433.39,2593.37 L1436.39,2591.78 L1439.39,2590.18 L1442.39,2588.58 L1445.39,2586.98 L1448.39,2585.38 L1451.39,2583.78 L1454.39,2582.18 L1457.39,2580.57 L1460.39,2578.96 L1463.39,2577.35 L1466.40,2575.74 L1469.40,2574.13 L1472.40,2572.52 L1475.40,2570.91 L1478.40,2569.29 L1481.40,2567.67 L1484.40,2566.06 L1487.40,2564.44 L1490.40,2562.82 L1493.40,2561.19 L1496.40,2559.57 L1499.40,2557.95 L1502.41,2556.32 L1505.41,2554.69 L1508.41,2553.07 L1511.41,2551.44 L1514.41,2549.81 L1517.41,2548.17 L1520.41,2546.54 L1523.41,2544.91 L1526.41,2543.27 L1529.41,2541.64 L1532.41,2540.00 L1535.41,2538.36 L1538.42,2536.72 L1541.42,2535.08 L1544.42,2533.44 L1547.42,2531.79 L1550.42,2530.15 L1553.42,2528.51 L1556.42,2526.86 L1559.42,2525.21 L1562.42,2523.57 L1565.42,2521.92 L1568.42,2520.27 L1571.42,2518.62 L1574.43,2516.97 L1577.43,2515.31 L1580.43,2513.66 L1583.43,2512.01 L1586.43,2510.35 L1589.43,2508.70 L1592.43,2507.04 L1595.43,2505.39 L1598.43,2503.73 L1601.43,2502.07 L1604.43,2500.41 L1607.43,2498.75 L1610.44,2497.09 L1613.44,2495.43 L1616.44,2493.77 L1619.44,2492.11 L1622.44,2490.44 L1625.44,2488.78 L1628.44,2487.12 L1631.44,2485.45 L1634.44,2483.79 L1637.44,2482.12 L1640.44,2480.46 L1643.45,2478.79 L1646.45,2477.13 L1649.45,2475.46 L1652.45,2473.79 L1655.45,2472.12 L1658.45,2470.46 L1661.45,2468.79 L1664.45,2467.12 L1667.45,2465.45 L1670.45,2463.78 L1673.45,2462.11 L1676.45,2460.44 L1679.46,2458.77 L1682.46,2457.10 L1685.46,2455.43 L1688.46,2453.76 L1691.46,2452.09 L1694.46,2450.42 L1697.46,2448.75 L1700.46,2447.08 L1703.46,2445.41 L1706.46,2443.74 L1709.46,2442.07 L1712.46,2440.40 L1715.47,2438.73 L1718.47,2437.06 L1721.47,2435.39 L1724.47,2433.72 L1727.47,2432.05 L1730.47,2430.38 L1733.47,2428.71 L1736.47,2427.05 L1739.47,2425.38 L1742.47,2423.71 L1745.47,2422.04 L1748.47,2420.37 L1751.48,2418.71 L1754.48,2417.04 L1757.48,2415.38 L1760.48,2413.71 L1763.48,2412.04 L1766.48,2410.38 L1769.48,2408.72 L1772.48,2407.05 L1775.48,2405.39 L1778.48,2403.73 L1781.48,2402.07 L1784.48,2400.41 L1787.49,2398.75 L1790.49,2397.09 L1793.49,2395.43 L1796.49,2393.77 L1799.49,2392.11 L1802.49,2390.46 L1805.49,2388.80 L1808.49,2387.15 L1811.49,2385.49 L1814.49,2383.84 L1817.49,2382.19 L1820.49,2380.54 L1823.50,2378.89 L1826.50,2377.24 L1829.50,2375.60 L1832.50,2373.95 L1835.50,2372.31 L1838.50,2370.66" fill="none" stroke="#000" stroke-width="6.8" stroke-linejoin="round"/>
<polygon points="419.10,3036.20 422.69,3047.26 434.32,3047.26 424.91,3054.09 428.50,3065.14 419.10,3058.31 409.70,3065.14 413.29,3054.09 403.88,3047.26 415.51,3047.26" fill="#0000ff"/>
<polygon points="520.50,2992.20 524.09,3003.26 535.72,3003.26 526.31,3010.09 529.90,3021.14 520.50,3014.31 511.10,3021.14 514.69,3010.09 505.28,3003.26 516.91,3003.26" fill="#0000ff"/>
<polygon points="621.90,2948.90 625.49,2959.96 637.12,2959.96 627.71,2966.79 631.30,2977.84 621.90,2971.01 612.50,2977.84 616.09,2966.79 606.68,2959.96 618.31,2959.96" fill="#0000ff"/>
<polygon points="723.40,2906.80 726.99,2917.86 738.62,2917.86 729.21,2924.69 732.80,2935.74 723.40,2928.91 714.00,2935.74 717.59,2924.69 708.18,2917.86 719.81,2917.86" fill="#0000ff"/>
<polygon points="824.80,2864.37 828.39,2875.42 840.02,2875.42 830.61,2882.26 834.20,2893.31 824.80,2886.48 815.40,2893.31 818.99,2882.26 809.58,2875.42 821.21,2875.42" fill="#0000ff"/>
<polygon points="926.20,2821.00 929.79,2832.06 941.42,2832.06 932.01,2838.89 935.60,2849.94 926.20,2843.11 916.80,2849.94 920.39,2838.89 910.98,2832.06 922.61,2832.06" fill="#0000ff"/>
<polygon points="1027.70,2776.70 1031.29,2787.76 1042.92,2787.76 1033.51,2794.59 1037.10,2805.64 1027.70,2798.81 1018.30,2805.64 1021.89,2794.59 1012.48,2787.76 1024.11,2787.76" fill="#0000ff"/>
<polygon points="1129.10,2730.00 1132.69,2741.06 1144.32,2741.06 1134.91,2747.89 1138.50,2758.94 1129.10,2752.11 1119.70,2758.94 1123.29,2747.89 1113.88,2741.06 1125.51,2741.06" fill="#0000ff"/>
<polygon points="1230.50,2681.20 1234.09,2692.26 1245.72,2692.26 1236.31,2699.09 1239.90,2710.14 1230.50,2703.31 1221.10,2710.14 1224.69,2699.09 1215.28,2692.26 1226.91,2692.26" fill="#0000ff"/>
<polygon points="1331.90,2630.20 1335.49,2641.26 1347.12,2641.26 1337.71,2648.09 1341.30,2659.14 1331.90,2652.31 1322.50,2659.14 1326.09,2648.09 1316.68,2641.26 1328.31,2641.26" fill="#0000ff"/>
<polygon points="1433.30,2577.40 1436.89,2588.46 1448.52,2588.46 1439.11,2595.29 1442.70,2606.34 1433.30,2599.51 1423.90,2606.34 1427.49,2595.29 1418.08,2588.46 1429.71,2588.46" fill="#0000ff"/>
<polygon points="1534.80,2523.30 1538.39,2534.36 1550.02,2534.36 1540.61,2541.19 1544.20,2552.24 1534.80,2545.41 1525.40,2552.24 1528.99,2541.19 1519.58,2534.36 1531.21,2534.36" fill="#0000ff"/>
<polygon points="1636.20,2466.81 1639.79,2477.87 1651.42,2477.87 1642.01,2484.70 1645.60,2495.76 1636.20,2488.93 1626.80,2495.76 1630.39,2484.70 1620.98,2477.87 1632.61,2477.87" fill="#0000ff"/>
<polygon points="1737.30,2412.00 1740.89,2423.06 1752.52,2423.06 1743.11,2429.89 1746.70,2440.94 1737.30,2434.11 1727.90,2440.94 1731.49,2429.89 1722.08,2423.06 1733.71,2423.06" fill="#0000ff"/>
<polygon points="1838.50,2353.90 1842.09,2364.96 1853.72,2364.96 1844.31,2371.79 1847.90,2382.84 1838.50,2376.01 1829.10,2382.84 1832.69,2371.79 1823.28,2364.96 1834.91,2364.96" fill="#0000ff"/>
<circle cx="469.3" cy="3031.8" r="13.7" fill="#ff00ff"/>
<circle cx="650.2" cy="2953.3" r="13.7" fill="#ff00ff"/>
<circle cx="824.1" cy="2880.9" r="13.7" fill="#ff00ff"/>
<circle cx="997.2" cy="2808.8" r="13.7" fill="#ff00ff"/>
<circle cx="1184.2" cy="2718.5" r="13.7" fill="#ff00ff"/>
<circle cx="1400.8" cy="2609.1" r="13.7" fill="#ff00ff"/>
<circle cx="1624.3" cy="2488.7" r="13.7" fill="#ff00ff"/>
<circle cx="1776.5" cy="2404.6" r="13.7" fill="#ff00ff"/>
<polygon points="416.10,3051.40 449.30,3051.40 432.70,3022.60" fill="#970000"/>
<polygon points="628.70,2964.40 661.90,2964.40 645.30,2935.60" fill="#970000"/>
<polygon points="785.10,2897.70 818.30,2897.70 801.70,2868.90" fill="#970000"/>
<polygon points="963.10,2822.20 996.30,2822.20 979.70,2793.40" fill="#970000"/>
<polygon points="1126.90,2747.10 1160.10,2747.10 1143.50,2718.30" fill="#970000"/>
<polygon points="1280.30,2671.30 1313.50,2671.30 1296.90,2642.50" fill="#970000"/>
<polygon points="1448.00,2580.20 1481.20,2580.20 1464.60,2551.40" fill="#970000"/>
<polygon points="1632.40,2482.00 1665.60,2482.00 1649.00,2453.20" fill="#970000"/>
<polygon points="1792.40,2394.80 1825.60,2394.80 1809.00,2366.00" fill="#970000"/>
<line x1="434.8" y1="1975.8" x2="599.8" y2="1975.8" stroke="#000" stroke-width="7" stroke-linecap="round"/>
<polygon points="517.50,2051.00 521.09,2062.06 532.72,2062.06 523.31,2068.89 526.90,2079.94 517.50,2073.11 508.10,2079.94 511.69,2068.89 502.28,2062.06 513.91,2062.06" fill="#0000ff"/>
<circle cx="517.2" cy="2158.5" r="13.35" fill="#ff00ff"/>
<polygon points="500.80,2350.60 533.60,2350.60 517.20,2322.30" fill="#970000"/>
<text x="617.90" y="2000.6" font-size="75.2" id="lb1" textLength="827.81" lengthAdjust="spacing">REFPROP Data (Modified)</text>
<text x="617.90" y="2091.6" font-size="75.2" id="lb2" textLength="582.85" lengthAdjust="spacing">Present Calculation</text>
<text x="617.90" y="2183.4" font-size="75.2" id="lb3" textLength="375.85" lengthAdjust="spacing">Meng's Data</text>
<text x="601.00" y="2275.0" font-size="75.2" id="lb4" textLength="709.27" lengthAdjust="spacing">(Meng, C.J. et al. 2022)</text>
<text x="619.30" y="2366.0" font-size="75.2" id="lb5" textLength="664.04" lengthAdjust="spacing">J.W. Leachman's Data</text>
<text x="601.00" y="2457.1" font-size="75.2" id="lb6" textLength="865.17" lengthAdjust="spacing">(Leachman, J.W. et al. 2017)</text>
<text x="1205.6" y="3474.1" font-size="75.2" text-anchor="middle" >Temperature/K</text>
<text transform="translate(83.0,3054.50) rotate(-90)" x="0" y="0" font-size="75.2" id="yb1" textLength="921.21" lengthAdjust="spacing">Orthohydrogen Enthalpy/kJ·kg</text>
<text transform="translate(52.5,2133.90) rotate(-90)" x="0" y="0" font-size="50" id="yb2" textLength="39.36" lengthAdjust="spacing">-1</text>
<text x="1087" y="3590.4" font-size="84" text-anchor="middle">(<tspan font-weight="bold">b</tspan>)</text>
</svg>
</body></html>
